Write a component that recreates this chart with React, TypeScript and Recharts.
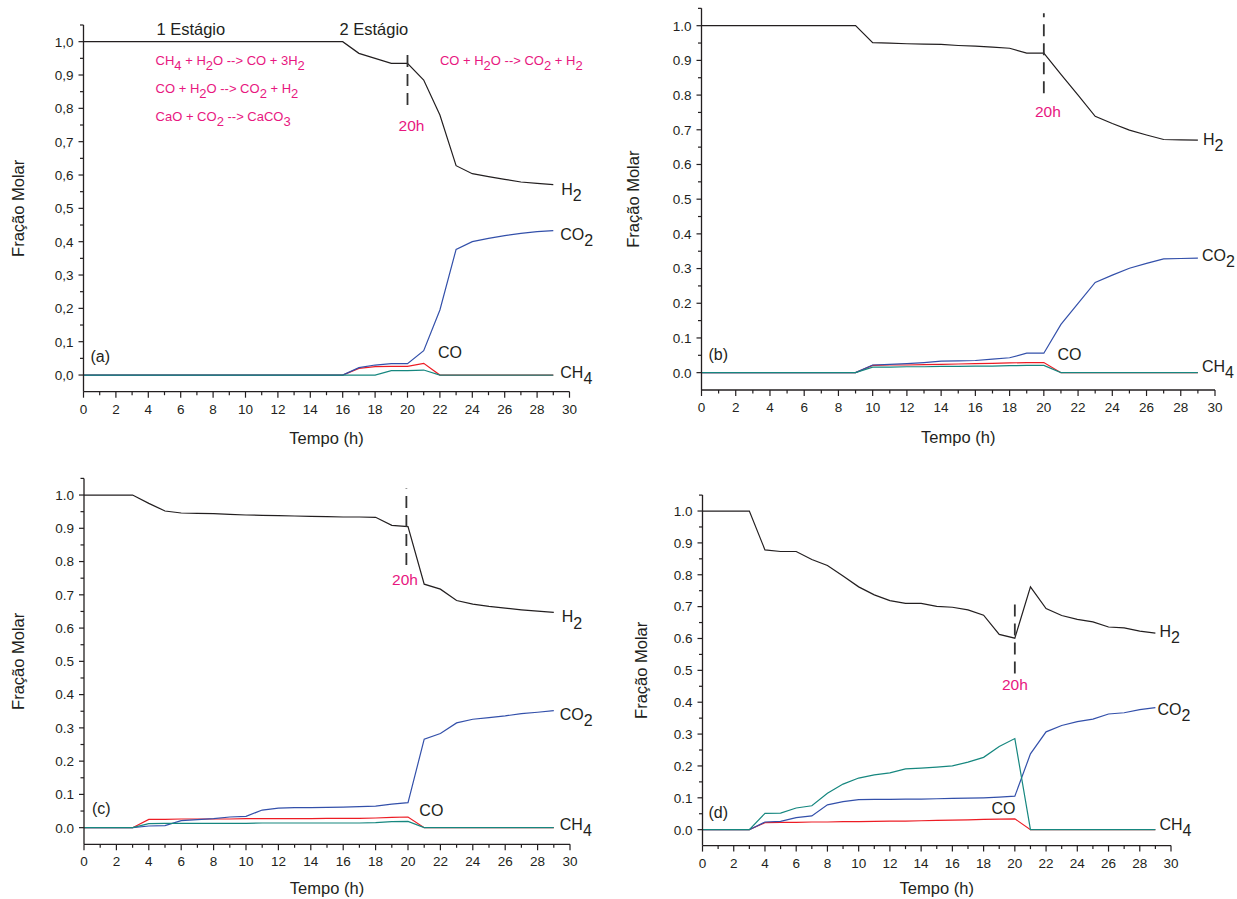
import React from 'react';
import { LineChart, Line, XAxis, YAxis, ReferenceLine, ReferenceDot } from 'recharts';

const FONT = '"Liberation Sans", Arial, Helvetica, sans-serif';
const INK = '#231f20';
const PINK = '#e8177f';
const C_H2 = '#231f20';
const C_CO2 = '#3350aa';
const C_CO = '#ed1c24';
const C_CH4 = '#16877f';

// ---------- data ----------
const hours = [0, 1, 2, 3, 4, 5, 6, 7, 8, 9, 10, 11, 12, 13, 14, 15, 16, 17, 18, 19, 20, 21, 22, 23, 24, 25, 26, 27, 28, 29];
const xTicks = [0, 1, 2, 3, 4, 5, 6, 7, 8, 9, 10, 11, 12, 13, 14, 15, 16, 17, 18, 19, 20, 21, 22, 23, 24, 25, 26, 27, 28, 29, 30];
const yTicks = [0, 0.05, 0.1, 0.15, 0.2, 0.25, 0.3, 0.35, 0.4, 0.45, 0.5, 0.55, 0.6, 0.65, 0.7, 0.75, 0.8, 0.85, 0.9, 0.95, 1.0, 1.05];

// Panel (a)
const h2A = [1, 1, 1, 1, 1, 1, 1, 1, 1, 1, 1, 1, 1, 1, 1, 1, 1, 0.965, 0.95, 0.935, 0.935, 0.885, 0.78, 0.628, 0.604, 0.595, 0.587, 0.579, 0.575, 0.571];
const co2A = [0, 0, 0, 0, 0, 0, 0, 0, 0, 0, 0, 0, 0, 0, 0, 0, 0, 0.022, 0.03, 0.034, 0.034, 0.073, 0.195, 0.377, 0.4, 0.41, 0.418, 0.425, 0.43, 0.433];
const coA = [0, 0, 0, 0, 0, 0, 0, 0, 0, 0, 0, 0, 0, 0, 0, 0, 0, 0.02, 0.025, 0.026, 0.026, 0.035, 0, 0, 0, 0, 0, 0, 0, 0];
const ch4A = [0, 0, 0, 0, 0, 0, 0, 0, 0, 0, 0, 0, 0, 0, 0, 0, 0, 0, 0, 0.013, 0.013, 0.015, 0, 0, 0, 0, 0, 0, 0, 0];

// Panel (b)
const h2B = [1, 1, 1, 1, 1, 1, 1, 1, 1, 1, 0.951, 0.95, 0.948, 0.947, 0.946, 0.943, 0.941, 0.938, 0.935, 0.921, 0.921, 0.86, 0.8, 0.739, 0.718, 0.699, 0.685, 0.672, 0.671, 0.67];
const co2B = [0, 0, 0, 0, 0, 0, 0, 0, 0, 0, 0.022, 0.024, 0.026, 0.029, 0.033, 0.034, 0.035, 0.039, 0.043, 0.056, 0.056, 0.139, 0.2, 0.26, 0.281, 0.301, 0.315, 0.328, 0.329, 0.33];
const coB = [0, 0, 0, 0, 0, 0, 0, 0, 0, 0, 0.021, 0.022, 0.022, 0.023, 0.024, 0.025, 0.026, 0.027, 0.028, 0.029, 0.029, 0, 0, 0, 0, 0, 0, 0, 0, 0];
const ch4B = [0, 0, 0, 0, 0, 0, 0, 0, 0, 0, 0.016, 0.016, 0.017, 0.017, 0.018, 0.018, 0.019, 0.019, 0.02, 0.021, 0.021, 0, 0, 0, 0, 0, 0, 0, 0, 0];

// Panel (c)
const h2C = [1, 1, 1, 1, 0.975, 0.952, 0.946, 0.945, 0.944, 0.942, 0.94, 0.939, 0.938, 0.937, 0.936, 0.935, 0.934, 0.934, 0.933, 0.909, 0.905, 0.732, 0.717, 0.683, 0.672, 0.665, 0.66, 0.655, 0.651, 0.647];
const co2C = [0, 0, 0, 0, 0.005, 0.006, 0.021, 0.024, 0.027, 0.032, 0.034, 0.053, 0.059, 0.06, 0.06, 0.061, 0.062, 0.063, 0.065, 0.071, 0.075, 0.266, 0.283, 0.315, 0.326, 0.331, 0.336, 0.343, 0.347, 0.352];
const coC = [0, 0, 0, 0, 0.025, 0.025, 0.026, 0.026, 0.026, 0.026, 0.027, 0.027, 0.027, 0.027, 0.027, 0.028, 0.028, 0.028, 0.029, 0.031, 0.032, 0, 0, 0, 0, 0, 0, 0, 0, 0];
const ch4C = [0, 0, 0, 0, 0.012, 0.013, 0.013, 0.013, 0.013, 0.013, 0.013, 0.014, 0.014, 0.014, 0.014, 0.014, 0.014, 0.014, 0.015, 0.018, 0.019, 0, 0, 0, 0, 0, 0, 0, 0, 0];

// Panel (d)
const h2D = [1, 1, 1, 1, 0.878, 0.873, 0.873, 0.848, 0.829, 0.796, 0.762, 0.737, 0.719, 0.71, 0.71, 0.701, 0.698, 0.69, 0.673, 0.613, 0.601, 0.762, 0.694, 0.672, 0.66, 0.652, 0.636, 0.633, 0.623, 0.617];
const co2D = [0, 0, 0, 0, 0.024, 0.026, 0.038, 0.043, 0.078, 0.088, 0.094, 0.095, 0.095, 0.096, 0.096, 0.097, 0.098, 0.099, 0.1, 0.102, 0.105, 0.238, 0.307, 0.327, 0.339, 0.347, 0.363, 0.367, 0.377, 0.383];
const coD = [0, 0, 0, 0, 0.022, 0.023, 0.023, 0.024, 0.024, 0.025, 0.025, 0.026, 0.027, 0.027, 0.028, 0.029, 0.03, 0.031, 0.032, 0.033, 0.034, 0, 0, 0, 0, 0, 0, 0, 0, 0];
const ch4D = [0, 0, 0, 0, 0.051, 0.052, 0.068, 0.075, 0.114, 0.143, 0.162, 0.172, 0.178, 0.191, 0.193, 0.196, 0.2, 0.212, 0.227, 0.261, 0.286, 0, 0, 0, 0, 0, 0, 0, 0, 0];

// text annotations
const stageLabels = ['1 Estágio', '2 Estágio'];
const reactionsStage1 = ['CH{4} + H{2}O --> CO + 3H{2}', 'CO + H{2}O --> CO{2} + H{2}', 'CaO + CO{2} --> CaCO{3}'];
const reactionStage2 = 'CO + H{2}O --> CO{2} + H{2}';

// ---------- helpers ----------
function buildRows(h2: number[], co2: number[], co: number[], ch4: number[]) {
  return hours.map((t, i) => ({ t, h2: h2[i], co2: co2[i], co: co[i], ch4: ch4[i] }));
}

function ChemText({ x, y, text, size, fill, anchor }: any) {
  const parts = String(text).split(/(\{[^}]*\})/).filter((p) => p.length > 0);
  const shift = size * 0.38;
  let down = false;
  return (
    <text x={x} y={y} fontSize={size} fill={fill} fontFamily={FONT} textAnchor={anchor || 'start'} style={{ whiteSpace: 'pre' }}>
      {parts.map((p, i) => {
        const isSub = p.startsWith('{');
        const content = isSub ? p.slice(1, -1) : p;
        let dy = 0;
        if (isSub && !down) { dy = shift; down = true; }
        else if (!isSub && down) { dy = -shift; down = false; }
        return (
          <tspan key={i} dy={dy !== 0 ? dy : undefined}>{content}</tspan>
        );
      })}
    </text>
  );
}

const XTick = (props: any) => {
  const { x, y, payload } = props;
  const v = payload.value;
  const major = v % 2 === 0;
  return (
    <g>
      <line x1={x} y1={y} x2={x} y2={y + (major ? 6 : 3.5)} stroke={INK} strokeWidth={1.2} />
      {major && (
        <text x={x} y={y + 22} textAnchor="middle" fontSize={13.5} fill={INK} fontFamily={FONT}>{v}</text>
      )}
    </g>
  );
};

const makeYTick = (comma: boolean) => (props: any) => {
  const { x, y, payload } = props;
  const v = payload.value as number;
  const major = Math.abs(v * 10 - Math.round(v * 10)) < 1e-6;
  let label = v.toFixed(1);
  if (comma) label = label.replace('.', ',');
  return (
    <g>
      <line x1={x - (major ? 5 : 3.5)} y1={y} x2={x} y2={y} stroke={INK} strokeWidth={1.2} />
      {major && (
        <text x={x - 10} y={y} dy="0.36em" textAnchor="end" fontSize={13.5} fill={INK} fontFamily={FONT}>{label}</text>
      )}
    </g>
  );
};

type Note = { x: number; y: number; text: string; dx?: number; dy?: number; size?: number; color?: string; anchor?: string };

function noteDot(n: Note, key: string) {
  return (
    <ReferenceDot
      key={key}
      x={n.x}
      y={n.y}
      r={0}
      ifOverflow="visible"
      isFront
      shape={(p: any) => (
        <ChemText x={p.cx + (n.dx || 0)} y={p.cy + (n.dy || 0)} text={n.text} size={n.size || 16} fill={n.color || INK} anchor={n.anchor} />
      )}
    />
  );
}

type PanelProps = {
  box: { left: number; top: number; w: number; h: number };
  plot: { l: number; r: number; t: number; b: number };
  rows: any[];
  comma: boolean;
  dash: { x: number; y1: number; y2: number };
  notes: Note[];
  yTitleX: number;
  xTitleOffset: number;
};

function Panel({ box, plot, rows, comma, dash, notes, yTitleX, xTitleOffset }: PanelProps) {
  const margin = { top: plot.t - box.top, right: box.left + box.w - plot.r, bottom: 0, left: 0 };
  const yW = plot.l - box.left;
  const xH = box.top + box.h - plot.b;
  return (
    <div style={{ position: 'absolute', left: box.left, top: box.top, width: box.w, height: box.h }}>
      <LineChart width={box.w} height={box.h} data={rows} margin={margin}>
        <XAxis
          dataKey="t"
          type="number"
          domain={[0, 30]}
          ticks={xTicks}
          interval={0}
          height={xH}
          tickSize={0}
          tickMargin={0}
          tickLine={false}
          tick={XTick}
          axisLine={{ stroke: INK, strokeWidth: 1.3 }}
          label={{ value: 'Tempo (h)', position: 'insideBottom', offset: xTitleOffset, fontSize: 16.5, fill: INK, fontFamily: FONT }}
        />
        <YAxis
          type="number"
          domain={[-0.05, 1.05]}
          ticks={yTicks}
          interval={0}
          width={yW}
          tickSize={0}
          tickMargin={0}
          tickLine={false}
          tick={makeYTick(comma)}
          axisLine={{ stroke: INK, strokeWidth: 1.3 }}
          allowDataOverflow
          label={{ value: 'Fração Molar', angle: -90, position: 'insideLeft', offset: yTitleX, fontSize: 16.5, fill: INK, fontFamily: FONT, style: { textAnchor: 'middle' } }}
        />
        <Line type="linear" dataKey="h2" stroke={C_H2} strokeWidth={1.2} dot={false} isAnimationActive={false} />
        <Line type="linear" dataKey="co" stroke={C_CO} strokeWidth={1.2} dot={false} isAnimationActive={false} />
        <Line type="linear" dataKey="co2" stroke={C_CO2} strokeWidth={1.2} dot={false} isAnimationActive={false} />
        <Line type="linear" dataKey="ch4" stroke={C_CH4} strokeWidth={1.2} dot={false} isAnimationActive={false} />
        <ReferenceLine
          segment={[{ x: dash.x, y: dash.y1 }, { x: dash.x, y: dash.y2 }]}
          stroke="#333"
          strokeWidth={1.8}
          strokeDasharray="12 7"
          ifOverflow="visible"
        />
        {notes.map((n, i) => noteDot(n, 'n' + i))}
      </LineChart>
    </div>
  );
}

const last = (arr: number[]) => arr[arr.length - 1];

export default function App() {
  const notesA: Note[] = [
    { x: 29, y: last(h2A), text: 'H{2}', dx: 8, dy: 10 },
    { x: 29, y: last(co2A), text: 'CO{2}', dx: 7, dy: 9 },
    { x: 29, y: last(ch4A), text: 'CH{4}', dx: 7, dy: 3 },
    { x: 22, y: 0.05, text: 'CO', dx: -2 },
    { x: 0, y: 0.04, text: '(a)', dx: 7 },
    { x: 20, y: 0.731, text: '20h', dx: 4, size: 15.5, color: PINK, anchor: 'middle' },
    { x: 4.5, y: 1.021, text: stageLabels[0], size: 16.5 },
    { x: 15.8, y: 1.021, text: stageLabels[1], size: 16.5 },
    { x: 4.45, y: 0.931, text: reactionsStage1[0], size: 13, color: PINK },
    { x: 4.45, y: 0.846, text: reactionsStage1[1], size: 13, color: PINK },
    { x: 4.45, y: 0.761, text: reactionsStage1[2], size: 13, color: PINK },
    { x: 22, y: 0.931, text: reactionStage2, size: 13, color: PINK },
  ];
  const notesB: Note[] = [
    { x: 29, y: last(h2B), text: 'H{2}', dx: 5, dy: 5 },
    { x: 29, y: last(co2B), text: 'CO{2}', dx: 4, dy: 3 },
    { x: 29, y: last(ch4B), text: 'CH{4}', dx: 4, dy: -1 },
    { x: 20.8, y: 0.037, text: 'CO' },
    { x: 0, y: 0.037, text: '(b)', dx: 7 },
    { x: 20, y: 0.737, text: '20h', dx: 4, size: 15.5, color: PINK, anchor: 'middle' },
  ];
  const notesC: Note[] = [
    { x: 29, y: last(h2C), text: 'H{2}', dx: 8, dy: 10 },
    { x: 29, y: last(co2C), text: 'CO{2}', dx: 6, dy: 9 },
    { x: 29, y: last(ch4C), text: 'CH{4}', dx: 6, dy: 2 },
    { x: 20.7, y: 0.035, text: 'CO' },
    { x: 0, y: 0.041, text: '(c)', dx: 8 },
    { x: 20, y: 0.73, text: '20h', dx: -3, size: 15.5, color: PINK, anchor: 'middle' },
  ];
  const notesD: Note[] = [
    { x: 29, y: last(h2D), text: 'H{2}', dx: 4, dy: 4 },
    { x: 29, y: last(co2D), text: 'CO{2}', dx: 2, dy: 7 },
    { x: 29, y: last(ch4D), text: 'CH{4}', dx: 4, dy: 0 },
    { x: 18.5, y: 0.049, text: 'CO' },
    { x: 0, y: 0.037, text: '(d)', dx: 6 },
    { x: 20, y: 0.438, text: '20h', size: 15.5, color: PINK, anchor: 'middle' },
  ];

  return (
    <div style={{ position: 'absolute', left: 0, top: 0, width: 1237, height: 899, background: '#fff', fontFamily: FONT, overflow: 'hidden' }}>
      <Panel
        box={{ left: 0, top: 0, w: 618, h: 450 }}
        plot={{ l: 83.5, r: 569.5, t: 25, b: 391.7 }}
        rows={buildRows(h2A, co2A, coA, ch4A)}
        comma
        dash={{ x: 20, y1: 0.81, y2: 0.98 }}
        notes={notesA}
        yTitleX={18}
        xTitleOffset={6}
      />
      <Panel
        box={{ left: 618, top: 0, w: 619, h: 450 }}
        plot={{ l: 701.5, r: 1215, t: 8.35, b: 390 }}
        rows={buildRows(h2B, co2B, coB, ch4B)}
        comma={false}
        dash={{ x: 20, y1: 0.805, y2: 1.036 }}
        notes={notesB}
        yTitleX={15}
        xTitleOffset={7}
      />
      <Panel
        box={{ left: 0, top: 450, w: 618, h: 449 }}
        plot={{ l: 84, r: 570, t: 478.4, b: 844.3 }}
        rows={buildRows(h2C, co2C, coC, ch4C)}
        comma={false}
        dash={{ x: 19.9, y1: 0.79, y2: 1.02 }}
        notes={notesC}
        yTitleX={18}
        xTitleOffset={5.5}
      />
      <Panel
        box={{ left: 618, top: 450, w: 619, h: 449 }}
        plot={{ l: 702.5, r: 1171, t: 495.1, b: 845.6 }}
        rows={buildRows(h2D, co2D, coD, ch4D)}
        comma={false}
        dash={{ x: 20, y1: 0.49, y2: 0.72 }}
        notes={notesD}
        yTitleX={23}
        xTitleOffset={5.5}
      />
    </div>
  );
}
